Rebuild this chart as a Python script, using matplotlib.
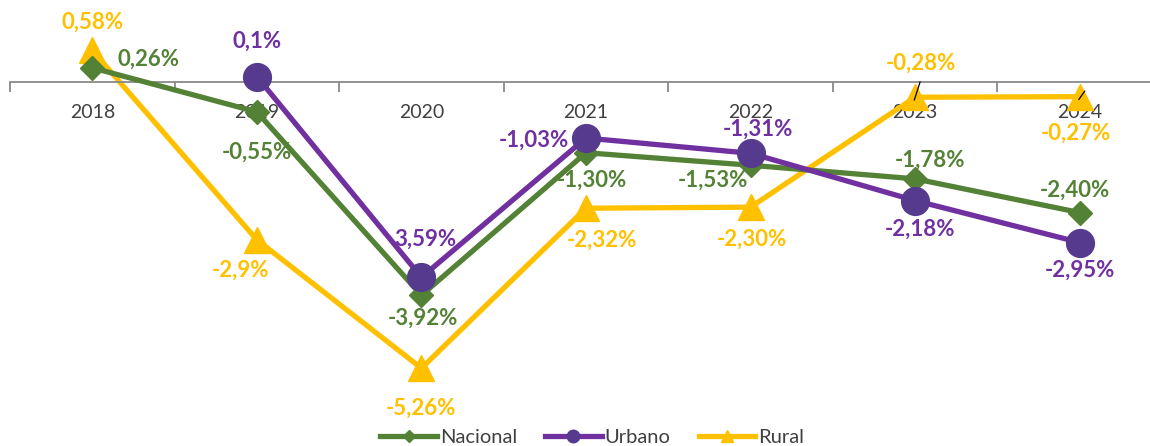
import matplotlib.pyplot as plt
from matplotlib.lines import Line2D

# Variación anual (%)
anios = ["2018", "2019", "2020", "2021", "2022", "2023", "2024"]
nacional = [0.26, -0.55, -3.92, -1.30, -1.53, -1.78, -2.40]
urbano = [None, 0.1, -3.59, -1.03, -1.31, -2.18, -2.95]
rural = [0.58, -2.9, -5.26, -2.32, -2.30, -0.28, -0.27]

# Etiquetas tal como se publican
et_nacional = ["0,26%", "-0,55%", "-3,92%", "-1,30%", "-1,53%", "-1,78%", "-2,40%"]
et_urbano = [None, "0,1%", "3,59%", "-1,03%", "-1,31%", "-2,18%", "-2,95%"]
et_rural = ["0,58%", "-2,9%", "-5,26%", "-2,32%", "-2,30%", "-0,28%", "-0,27%"]

verde = "#538135"
morado = "#7030A0"
morado_osc = "#553A8E"
amarillo = "#FFC000"

plt.rcParams["font.family"] = ["Lato", "DejaVu Sans"]

fig = plt.figure(figsize=(11.5, 4.46), dpi=100)
ax = fig.add_axes([10 / 1150, 0, 1152 / 1150, 1])
ax.set_xlim(-0.5, 6.5)
ax.set_ylim(-6.69, 1.507)

x = list(range(len(anios)))
xu = [i for i in x if urbano[i] is not None]
yu = [urbano[i] for i in xu]

ax.plot(x, nacional, color=verde, lw=3.8, marker="D", ms=12.5,
        mfc=verde, mec=verde, zorder=3, label="Nacional")
ax.plot(xu, yu, color=morado, lw=3.8, marker="o", ms=20,
        mfc=morado_osc, mec=morado_osc, zorder=4, label="Urbano")
ax.plot(x, rural, color=amarillo, lw=3.8, marker="^", ms=19,
        mfc=amarillo, mec=amarillo, zorder=2, label="Rural")

# Desplazamientos de etiquetas (px)
off_nac = [(56, 9), (0, -40), (2, -23), (6, -27), (-38, -15), (15, 19), (-5, 22)]
off_urb = [None, (0, 35), (4, 38), (-52, -2), (7, 24), (5, -29), (0, -28)]
off_rur = [(0, 28), (-16, -30), (0, -40), (16, -32), (1, -32), (6, 34), (-4, -37)]

def etiquetar(vals, textos, offs, color):
    for i, (v, t, o) in enumerate(zip(vals, textos, offs)):
        if v is None:
            continue
        ax.annotate(t, (i, v), xytext=o, textcoords="offset pixels",
                    ha="center", va="center", color=color, fontsize=16,
                    fontweight="bold", zorder=6)

etiquetar(nacional, et_nacional, off_nac, verde)
etiquetar(urbano, et_urbano, off_urb, morado)
etiquetar(rural, et_rural, off_rur, amarillo)

# líneas guía de 2023 y 2024
for i, dy in [(5, 0.28), (6, 0.1)]:
    ax.plot([i - 0.005, i + 0.03], [rural[i] - 0.05, rural[i] + dy],
            color="black", lw=0.9, zorder=5)

# eje en cero
for s in ["top", "right", "left"]:
    ax.spines[s].set_visible(False)
ax.spines["bottom"].set_position(("data", 0))
ax.spines["bottom"].set_color("#898989")
ax.spines["bottom"].set_linewidth(1.3)
ax.set_yticks([])
ax.set_xticks([i - 0.5 for i in range(len(anios) + 1)])
ax.set_xticklabels([])
ax.tick_params(axis="x", which="major", direction="out", length=7,
               color="#898989", width=1.3)
ax.set_xticks(x, minor=True)
ax.set_xticklabels(anios, minor=True)
ax.tick_params(axis="x", which="minor", length=0, pad=16,
               labelsize=14, labelcolor="#404040")
for lbl in ax.get_xticklabels(minor=True):
    lbl.set_zorder(1)

handles = [
    Line2D([], [], color=verde, lw=3.8, marker="D", ms=6, mfc=verde, mec=verde),
    Line2D([], [], color=morado, lw=3.8, marker="o", ms=9, mfc=morado_osc, mec=morado_osc),
    Line2D([], [], color=amarillo, lw=3.8, marker="^", ms=8, mfc=amarillo, mec=amarillo),
]
fig.legend(handles, ["Nacional", "Urbano", "Rural"], loc="lower center",
           bbox_to_anchor=(0.515, -0.04), ncol=3, frameon=False,
           fontsize=14.5, labelcolor="#404040", handlelength=2.8,
           handletextpad=0.15, columnspacing=1.4)

fig.savefig("out.png", dpi=100)
